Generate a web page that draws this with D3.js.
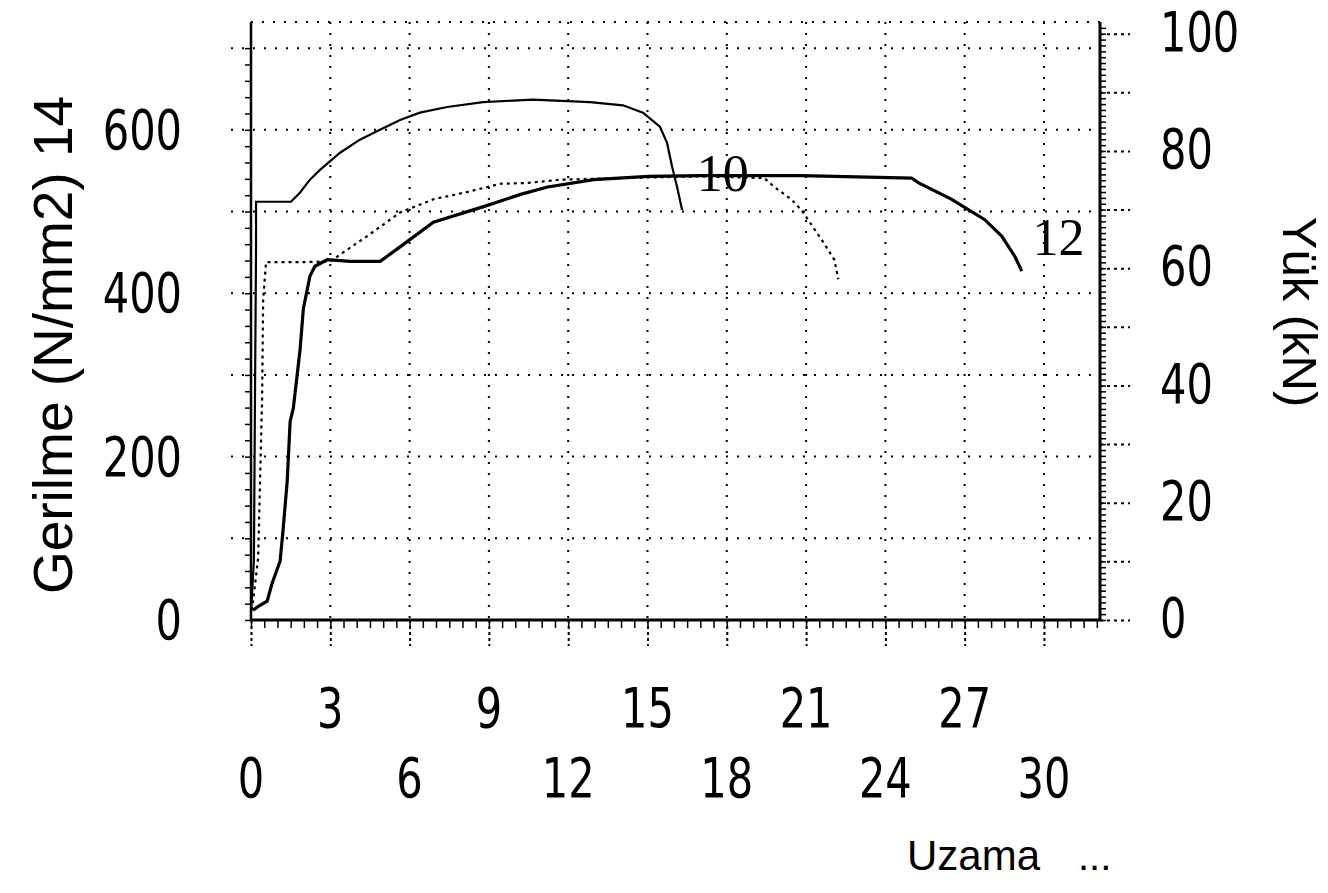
<!DOCTYPE html>
<html><head><meta charset="utf-8">
<script src="https://cdn.jsdelivr.net/npm/d3@7"></script>
<style>html,body{margin:0;padding:0;background:#fff;}svg{display:block;}</style>
</head><body>
<script>
// ---- data (x = Uzama, y = Gerilme N/mm2) ----
const curve14X = [0, 0.11, 0.15, 0.19, 0.19, 0.9, 1.51, 1.85, 2.23, 2.61, 3.37, 4.12, 4.88, 5.64, 6.39, 7.42, 8.78, 10.67, 12.83, 14.07, 14.83, 15.47, 15.74, 15.93, 16.12, 16.31];
const curve14Y = [10, 73, 269, 453, 512, 512, 512, 523, 539, 551, 572, 588, 600, 612, 621, 628, 634, 637, 634, 630, 621, 604, 584, 555, 530, 502];
const curve12X = [0.08, 0.34, 0.61, 0.80, 1.10, 1.21, 1.37, 1.48, 1.60, 1.86, 1.98, 2.23, 2.42, 2.88, 3.75, 4.89, 5.65, 6.90, 8.80, 10.20, 11.22, 12.97, 15.02, 17.03, 20.82, 24.99, 25.26, 26.51, 27.76, 28.40, 28.90, 29.16];
const curve12Y = [12, 18, 23, 45, 72, 109, 170, 243, 259, 332, 381, 421, 433, 441, 439, 439, 457, 487, 506, 521, 530, 539, 543, 544, 544, 541, 535, 515, 490, 470, 445, 427];
const curve10X = [0.04, 0.27, 0.42, 0.46, 0.57, 1.86, 3.0, 3.49, 4.40, 5.65, 6.90, 8.19, 9.44, 10.47, 11.72, 13.99, 17.03, 19.42, 19.80, 20.44, 20.82, 21.58, 22.07, 22.22];
const curve10Y = [12, 76, 271, 393, 438, 438, 439, 450, 470, 499, 515, 524, 534, 535, 539, 541, 543, 541, 530, 515, 502, 466, 441, 417];
const seriesNames = ["14", "12", "10"];
const xTicksUpper = [3, 9, 15, 21, 27];
const xTicksLower = [0, 6, 12, 18, 24, 30];
const leftTicks = [0, 200, 400, 600];
const rightTicks = [0, 20, 40, 60, 80, 100];
const labelPos10 = [17.85, 540];
const labelPos12 = [30.55, 461];

const W = 1328, H = 893;
const svg = d3.select("body").append("svg").attr("width", W).attr("height", H);

const x = d3.scaleLinear().domain([0, 32.12]).range([251, 1100]);
const yL = d3.scaleLinear().domain([0, 732]).range([620, 22]);
const yR = d3.scaleLinear().domain([0, 102]).range([620, 22]);

const digitFont = "'DejaVu Sans Condensed','DejaVu Sans',sans-serif";
const textFont = "'Liberation Sans','DejaVu Sans',sans-serif";
const SX = 0.84;

// ---- grid (dotted) ----
const grid = svg.append("g").attr("stroke", "#000").attr("stroke-width", 2).attr("stroke-dasharray", "2,9").attr("fill", "none");
grid.selectAll("line.h").data(d3.range(100, 701, 100)).join("line")
  .attr("x1", x(0) - 20).attr("x2", x.range()[1]).attr("y1", d => yL(d)).attr("y2", d => yL(d));
grid.append("line").attr("x1", x(0)).attr("x2", x.range()[1]).attr("y1", yL(732)).attr("y2", yL(732));
grid.selectAll("line.v").data(d3.range(3, 31, 3)).join("line")
  .attr("x1", d => x(d)).attr("x2", d => x(d)).attr("y1", yL(732)).attr("y2", yL(0));

// ---- axes ----
const axB = d3.axisBottom(x).tickValues(d3.range(0, 32.01, 0.5)).tickSize(8).tickFormat("");
const gB = svg.append("g").attr("transform", `translate(0,${yL(0)})`).call(axB);
gB.select(".domain").attr("stroke-width", 3).attr("d", `M${x(0)},0H${x.range()[1]}`);
gB.selectAll(".tick line").attr("stroke-width", 1.5);
const axBMaj = d3.axisBottom(x).tickValues(d3.range(0, 31, 3)).tickSize(26).tickFormat("");
const gBM = svg.append("g").attr("transform", `translate(0,${yL(0)})`).call(axBMaj);
gBM.select(".domain").remove();
gBM.selectAll(".tick line").attr("stroke-width", 2).attr("stroke-dasharray", "3,3");

const axL = d3.axisLeft(yL).tickValues(d3.range(0, 701, 20)).tickSize(6).tickFormat("");
const gL = svg.append("g").attr("transform", `translate(${x(0)},0)`).call(axL);
gL.select(".domain").attr("stroke-width", 2.5).attr("d", `M0,${yL(0)}V${yL(732)}`);
gL.selectAll(".tick line").attr("stroke-width", 1.5);

const axR = d3.axisRight(yR).tickValues(d3.range(0, 102, 1)).tickSize(6).tickFormat("");
const gR = svg.append("g").attr("transform", `translate(${x.range()[1]},0)`).call(axR);
gR.select(".domain").attr("stroke-width", 3).attr("d", `M0,${yR(0)}V${yR(102)}`);
gR.selectAll(".tick line").attr("stroke-width", 1.5);
const axRM = d3.axisRight(yR).tickValues(d3.range(0, 101, 10)).tickSize(30).tickFormat("");
const gRM = svg.append("g").attr("transform", `translate(${x.range()[1]},0)`).call(axRM);
gRM.select(".domain").remove();
gRM.selectAll(".tick line").attr("stroke-width", 2).attr("stroke-dasharray", "3,4");

// ---- tick labels (slightly condensed digits) ----
const lab = svg.append("g").attr("font-family", digitFont).attr("font-size", 55).attr("fill", "#000");
lab.selectAll("text.l").data(leftTicks).join("text")
  .attr("transform", d => `translate(182,${yL(d) + 4}) scale(${SX},1)`)
  .attr("text-anchor", "end").attr("dominant-baseline", "middle").text(d => d);
lab.selectAll("text.r").data(rightTicks).join("text")
  .attr("transform", d => `translate(1160,${yR(d) + 2}) scale(${SX},1)`)
  .attr("text-anchor", "start").attr("dominant-baseline", "middle").text(d => d);
lab.selectAll("text.xu").data(xTicksUpper).join("text")
  .attr("transform", d => `translate(${x(d)},727) scale(${SX},1)`)
  .attr("text-anchor", "middle").text(d => d);
lab.selectAll("text.xl").data(xTicksLower).join("text")
  .attr("transform", d => `translate(${x(d)},797) scale(${SX},1)`)
  .attr("text-anchor", "middle").text(d => d);

// ---- axis titles ----
svg.append("text").attr("font-family", textFont).attr("font-size", 55)
  .attr("transform", "translate(72,345) rotate(-90)").attr("text-anchor", "middle").text("Gerilme (N/mm2) 14");
svg.append("text").attr("font-family", textFont).attr("font-size", 49)
  .attr("transform", "translate(1283,312) rotate(90)").attr("text-anchor", "middle").text("Yük (kN)");
svg.append("text").attr("font-family", textFont).attr("font-size", 42)
  .attr("x", 907).attr("y", 870).text("Uzama");
svg.append("text").attr("font-family", textFont).attr("font-size", 40)
  .attr("x", 1078).attr("y", 870).text("...");

// ---- curves ----
const line = d3.line().x(d => x(d[0])).y(d => yL(d[1]));
const zip = (a, b) => a.map((v, i) => [v, b[i]]);
svg.append("path").datum(zip(curve10X, curve10Y)).attr("d", line)
  .attr("fill", "none").attr("stroke", "#000").attr("stroke-width", 2.2).attr("stroke-dasharray", "3,4");
svg.append("path").datum(zip(curve14X, curve14Y)).attr("d", line)
  .attr("fill", "none").attr("stroke", "#000").attr("stroke-width", 2.2);
svg.append("path").datum(zip(curve12X, curve12Y)).attr("d", line)
  .attr("fill", "none").attr("stroke", "#000").attr("stroke-width", 3.2);

// ---- curve labels ----
const cl = svg.append("g").attr("font-family", "'Liberation Serif','DejaVu Serif',serif").attr("font-size", 52).attr("fill", "#000");
cl.append("text").attr("x", x(labelPos10[0])).attr("y", yL(labelPos10[1])).attr("text-anchor", "middle").attr("dominant-baseline", "middle").text(seriesNames[2]);
cl.append("text").attr("x", x(labelPos12[0])).attr("y", yL(labelPos12[1])).attr("text-anchor", "middle").attr("dominant-baseline", "middle").text(seriesNames[1]);
</script>
</body></html>
